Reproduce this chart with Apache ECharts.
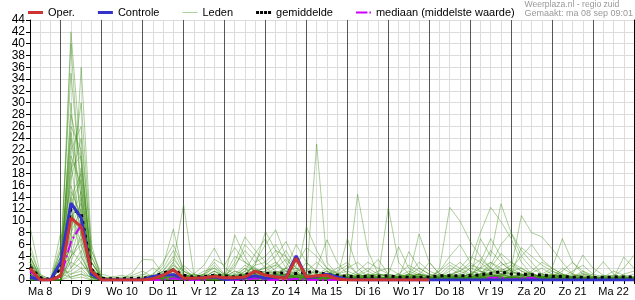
<!DOCTYPE html>
<html><head><meta charset="utf-8">
<script src="https://cdn.jsdelivr.net/npm/echarts@6/dist/echarts.min.js"></script>
<style>html,body{margin:0;padding:0;background:#fff}#c{width:635px;height:300px}</style>
</head><body><div id="c"></div>
<script>
// Day labels (one per day) and the 6-hourly steps within a day
const dayLabels = ['Ma 8','Di 9','Wo 10','Do 11','Vr 12','Za 13','Zo 14','Ma 15','Di 16','Wo 17','Do 18','Vr 19','Za 20','Zo 21','Ma 22','Di 23'];
const stepHours = [6, 12, 18, 0];
const nPoints = 60; // Ma 8 06:00 .. Di 23 00:00, every 6 h

// Operationele run (ends Do 18 00:00)
const oper = [2,0,0, 0.7,10.5,9,1.5, 0,0,0,0, 0,0.2,0.8,1.7, 0.3,0.3,0.4,0.6, 0.4,0.4,0.5,1.5, 0.8,0.5,0.3,3.7, 0.5,0.7,0.8,0.2, 0,0,0,0, 0,0,0,0, 0];
// Controle run
const controle = [0.5,0,0, 3,13,10.5,1, 0,0,0,0, 0,0.6,0.8,0.9, 0.3,0.2,0.4,0.5, 0.1,0.2,0.4,0.7, 0.3,0.5,0.4,4.1, 0.4,0.6,1,0.5, 0.1,0,0,0, 0,0,0,0, 0,0,0,0, 0,0,0,0, 0,0,0,0, 0,0,0,0, 0,0,0,0, 0];
// Ensemble gemiddelde
const gemiddelde = [2.2,0.4,0.1, 2,12,11.2,1.8, 0.3,0.2,0.2,0.3, 0.3,0.5,1.2,1.7, 0.8,0.5,0.55,0.8, 0.7,0.5,0.9,1.4, 1.1,1.2,1.2,1.1, 1.3,1.4,0.9,0.8, 0.6,0.6,0.6,0.6, 0.7,0.5,0.45,0.45, 0.5,0.7,0.7,0.7, 0.7,0.9,1.1,1.4, 1,1,0.9,0.85, 0.6,0.6,0.45,0.45, 0.4,0.45,0.5,0.5, 0.5];
// Mediaan
const mediaan = [1.5,0,0, 0.5,6.5,9.3,1, 0,0,0,0, 0,0,0,0.3, 0,0,0,0.6, 0,0,0,0.3, 0,0,0,0.2, 0,0,0,0, 0,0,0,0, 0,0,0,0, 0,0,0,0, 0,0,0.4,0.4, 0,0.3,0.4,0, 0,0,0,0, 0,0,0,0, 0];
// Ensembleleden
const leden = [
[4,0.5,0, 2,42,20,3, 0.5,0,0,0, 0,0.3,1,2, 0.5,0,0.3,1, 0.2,0.8,2,1, 0.5,1.2,0.8,0.3, 0.2,1,0.5,0, 0,0.3,0.8,0.2, 0,0,0.4,1, 0.3,0,0,0.5, 1,2,3,1.5, 0.5,0.2,0,0.4, 0.8,0.3,0,0, 0,0.2,0.5,0.3, 0],
[2,0,0, 1,40,13,1, 0,0,0.3,0.8, 1.5,0.5,0.8,3, 0.3,0.1,0.5,2.5, 0.8,4,3,1.5, 2,3,1,0.5, 0.3,0.8,2,1.2, 0.5,0.2,0,0, 0.2,0.6,1.5,0.8, 0,0.3,1,0.5, 0.2,0.5,1,0.4, 2,1,0.5,0.3, 0,0,0.4,1, 0.5,0.3,0.2,1, 1.5],
[9,1,0, 5,35,16,1, 0,0,0,0, 0,0,0.5,1.2, 0,0,0,0.4, 0,0.3,1,2.5, 8.2,5,2,0.8, 0.4,0,0.2,0.5, 1,0.5,0.2,0, 0,0.2,0.5,0, 0,0.5,2,1, 0.5,3,7,4, 1.5,0.5,0.2,0, 0,0.3,0.8,0.5, 0.2,0,0,0.3, 0.5],
[0,0,0, 0,30,9,0.5, 0,0,0,0, 0.3,1,2.5,8.6, 1,0.3,0,0, 0,0,0.5,0.3, 0.2,0.8,1.5,2, 1,0.5,0.3,0.2, 0,0,0.5,1.5, 2,1,0.3,0, 0,0,0.2,0.4, 1,0.5,0,0, 0,0.5,1.2,2, 1,0.4,0.2,0, 0,0,0.4,0.8, 0.3],
[3,0,0, 3,26,22,2, 0.3,0,0,0, 0,0,0.3,0.5, 2.5,1,0.5,0.3, 0,0.5,0.8,3, 6,8.5,4,1, 0.5,0.3,0,0, 0,0,0.3,0.2, 0.5,1,0.3,0.6, 0.4,1.5,3,2, 1,0.8,0.3,0.5, 0.2,0,0,0.3, 0.5,2,1,0.5, 0.3,0.5,0.2,0, 0],
[1,0,0, 1,24,11,1, 0,0.2,0.5,0.3, 0,0.2,0.5,3, 12.8,1,0.3,0.5, 0.2,0.3,0.8,0.4, 0.5,1,2,3, 1.5,1,0.5,0.3, 0.2,0.5,1,0.4, 0,0,0,0.3, 0.5,0.2,0,0, 0.4,1,2.5,6, 8,5,3,1, 0.5,0.3,0.3,0.2, 0,0,0.2,0.4, 0.3],
[5,0.8,0.2, 4,22,26,4, 0,0,0,0, 0,0,0,0.3, 0,0,0.5,1.5, 0.5,7.6,4,1, 0.3,0.5,0.3,0.2, 0,0.2,1,2, 3,1,0.5,0, 0,0.3,0.8,0.5, 0.2,0,0.3,1, 2,1.5,1,0.5, 0.3,0.5,0.8,0.3, 0,0,0.5,1.2, 0.5,0.2,0,0, 0.2],
[2,0,0, 0,20,7,1, 0,0,0,0, 0,0.4,1.5,4, 1,0.5,1,2, 0.5,0.3,0.2,0.8, 1.5,2.5,5,2, 0.5,23,3,1, 0.3,0,0,0.2, 0.5,0.2,0,0, 0,0,0.5,0.3, 0,0.3,1.5,3, 1.5,0.8,0.5,0.2, 0,0,0,0.3, 0.2,0,0,0, 0],
[0.5,0,0, 2,18,30,5, 0.5,0.2,0,0, 0,0,0.2,1, 0.3,0,0,0, 0,0.5,1,0.5, 0.3,0.2,0.8,1.5, 2,1,0.5,0.2, 0,0.5,1,0.8, 0.3,0,0,0, 0,2,12.3,10, 6.5,4,2,1, 0.5,0.2,0,0, 0,0.2,0.5,0.3, 0,0.5,0.8,0.3, 0],
[3,0,0, 6,16,10,1, 0,0,0,0, 0,0,0.6,1.5, 0.5,0.2,0.3,0.5, 0.3,0,0.2,0.5, 1,0.5,0.2,0.5, 0.8,1.5,0.5,0.3, 0.5,14.5,5,1, 0.5,0.3,0,0, 0,0,0,0.5, 1,0.5,0.3,0.8, 0.5,1,0.5,0, 0.3,0.8,0.4,0.2, 0,0,0.3,0.5, 0.2],
[0,0,0, 1,14,18,2, 0,0,0.3,1.2, 3.5,3.4,1,0.5, 0.2,0,0,0.3, 0.8,2,6,4, 2,1,0.5,0.8, 0.3,0,0,0.5, 1,0.5,0,0, 0,0.5,1,0.5, 0.3,0.2,0.8,1.5, 3,8,12.3,9.9, 7,3,1,0.5, 0.2,0,0,0, 0,0.2,0,0, 0],
[1.5,0,0, 3,12,4,0.5, 0,0,0,0, 0,0,0,0.2, 0.5,1,2.5,5.4, 2,1,0.5,0.3, 0,0.3,0.5,0.2, 0,0,0.5,1, 2,3,1.5,0.5, 0.3,0,0.5,1, 0.5,0,0,0, 0,0.2,0.5,1, 2,10.9,8,7.3, 5.3,3,1,0.5, 0.3,0,0,0.2, 0.5],
[4,0.3,0, 0,10,15,3, 0.2,0,0,0, 0,0.5,2,5, 1.5,0.5,0.3,1, 0.5,3,7.3,5, 3,1.5,1,0.5, 0.5,0.8,1.5,0.8, 0.3,0,0,0, 0,0.5,0.8,2, 1,0.5,0.2,0, 0,0,0.5,1.5, 1,0.3,0.2,0.5, 1,0.8,0.3,0.2, 0.5,0.3,0,0, 0],
[2,0,0, 2,8,12,0.5, 0,0,0,0.5, 1,0.5,0.2,0, 0,0,0.2,0.5, 0.3,0.2,0,0, 0.5,0.8,2,6, 3,1,0.5,0.2, 0,0.3,0.8,0.4, 12.3,3,1,0.5, 0.2,0,0,0.3, 0.5,1,0.8,0.3, 0,0,0.5,1, 2,7,3,1, 0.5,0.2,0,0, 0.3],
[0,0,0, 4,7,9.5,2, 0.3,0,0,0, 0,0,0.8,2.5, 1,0.3,0,0, 0,0.3,1.5,2, 0.8,0.5,0.3,0.5, 9,5,2,0.5, 0.2,0,0.3,0.5, 1,5.6,2,1, 0.5,0.2,0,0, 0,0.5,2,0.5, 0.3,0.2,0.3,0.8, 0.5,0.2,0,0, 0,0.5,1.5,0.8, 0.5],
[1,0,0, 1,6,36,6, 0,0,0,0, 0,0.2,0.3,0.6, 0.3,0,0,0.2, 0.3,0.5,0.3,0.2, 0.4,0.8,1,0.5, 0.3,2,6.8,3, 1,0.5,0.2,0, 0,0,0.3,0.8, 3,1,0.5,0.2, 0.5,0.8,0.5,0.2, 0,0.3,0.5,0.3, 0.8,0.5,0.2,0, 0,0,0.3,0.5, 0.2],
[3,0,0, 0,5,14,1, 0,0,0,0, 0.2,0.8,3,6, 2,0.5,0.2,0, 0,0.2,0.5,1, 1,2,3.5,1.5, 0.5,0.3,0.2,0, 0.5,1.5,3,2, 1,0.5,0.2,0, 0,0,0.3,0.8, 0.5,0.3,1,2.5, 3,2,1,0.5, 0.3,0.2,0.5,0.8, 0.3,0,0,0, 0],
[0.5,0,0, 3,5,3,0.5, 0,0,0,0, 0,0,0,0, 0,0.3,0.8,3, 1,0.5,0.2,0, 0,0.3,0.5,1, 0.5,0.2,0,0.3, 0.8,0.4,0.2,0, 0,0.2,0.5,7.8, 3,1,0.5,0.2, 0.3,0.5,0.8,0.4, 0.3,0.5,1,0.5, 0.2,0,0,0.3, 1,3.1,1,0.3, 0],
[2,0,0, 0,4,10,2, 0,0,0,0, 0,0,0.5,1, 0.5,0.2,0,0, 0,0,0.5,0.8, 0.5,0.3,0.8,0.4, 0.2,0.5,0.8,0.3, 7,2,0.5,0.2, 0.5,0.3,0,0, 0,0,0.5,2, 4,3,1.5,0.5, 0.3,0.5,0.3,0.2, 0.5,1,0.5,0.3, 0.2,0.5,0.3,0.2, 0.4],
[6,0.5,0, 2,4,6,1, 0,0,0,0, 0.3,0,0.2,0.5, 0.2,0,0,0.5, 0.5,1.5,0.8,0.3, 0.2,0.5,0.3,0.2, 0.5,0.3,0.2,0.5, 0.3,0.8,0.4,0, 0,0,0.2,0.4, 0.3,0.5,0.2,0, 0.5,7,4,12.9, 8,4,2,1, 0.5,0.3,0.2,0, 0,0,0.2,0.3, 0],
[0,0,0, 1,3,8,1.5, 0,0,0,0, 0,0.3,0.5,1, 0.5,0.5,0.8,0.3, 0.2,0.5,2,0.5, 0.8,0.5,0.3,0, 0,0.5,0.3,0.5, 0.4,0.2,0,0.3, 0.5,0.3,4.8,2, 1,0.5,0.3,0.5, 1,1.5,0.5,0.3, 0.5,0.3,0.2,0, 0,0.5,1,4.2, 2,0.8,0.3,0, 0],
[1,0,0, 0,3,2,0.3, 0,0.5,0.8,0.3, 0.5,0.2,0,0, 0,0,0,0.3, 0.5,0.3,0.2,0.5, 0.3,0.2,0.5,0.8, 0.5,0.3,0,0, 0,0,0.2,0.5, 0.3,0.2,0,0, 0,0.3,0.5,0.8, 0.3,0.2,0.5,0.3, 0.5,0.8,0.5,0.3, 0,0,0.3,0.5, 0.3,0.2,0.5,2, 4.2],
[2.5,0,0, 8,2,5,0, 0,0,0,0, 0,0,0,0.2, 0.3,0.5,1,0.3, 0,0.2,0.3,0.2, 0.5,1,0.8,0.4, 0.3,0.5,0.3,0.2, 0,0.3,0.5,0.3, 0.2,0,0,0.2, 0.5,0.3,0.8,0.5, 0.3,0.5,1,0.5, 0.3,0.2,0.5,0.8, 1.5,0.8,0.5,0.3, 0.2,0,0.3,3.9, 2],
[0,0,0, 0,2,4,0.5, 0,0,0,0, 0,0,0.2,0.5, 0.3,0.2,0.5,1, 0.5,0.3,0.2,0, 0,0,0.2,0.5, 0.3,0.2,0.4,0.3, 0.2,0.5,0.3,0.2, 0,0.3,0.5,0.3, 0.2,0,0,0, 0.2,0.3,0.5,0.8, 0.5,0.3,0.5,0.3, 0.3,0.2,0.5,0.3, 0.2,0.3,0.2,0.5, 0.3],
[1,0,0, 1,1.5,3,0.5, 0,0,0,0, 0,0,0,0, 0,0,0,0, 0,0.5,0.8,0.5, 0.3,0.2,0.4,0.3, 0.2,0.3,0.2,0, 0,0,0.2,0.3, 0.3,0.2,0.3,0.5, 0.2,0.4,0.3,0, 0,0.2,0.3,0.2, 0.2,0.3,0.2,0.5, 0.8,0.3,0.2,0, 0,0.2,0.3,0.2, 0],
[3.5,0.3,0, 0,1,2,2, 0.5,0,0,0, 0,0,0.3,0.8, 0.5,0.3,0.2,0, 0,0,0.3,0.2, 0.5,0.8,0.5,0.2, 0.3,0.5,1,0.5, 0.3,0.2,0,0, 0,0,0.3,0.5, 0.3,0.8,0.5,0.3, 0.2,0,0,0.3, 0.5,0.3,0.2,0, 0,0.3,0.2,0.5, 0.3,0.2,0,0.3, 0.2],
[0.5,0,0, 2,1,1.5,0.3, 0,0,0,0, 0,0,0,0.3, 0.2,0,0,0, 0,0,0.2,0.5, 1,0.5,0.3,0.2, 0,0,0.3,0.5, 0.5,0.3,0.2,0, 0,0,0,0.2, 0.3,0.2,0,0, 0,0.3,0.5,0.3, 0.2,0,0,0.2, 0.3,0.5,0.3,0, 0,0,0.2,0.3, 0.5],
[2,0,0, 0,0.5,1,0, 0,0,0,0, 0,0,0,0, 0,0,0,0.2, 0.2,0,0,0, 0,0.2,0.3,0, 0,0,0,0, 0,0,0.2,0, 0,0,0,0, 0,0,0.2,0.3, 0.2,0,0,0, 0,0,0.2,0, 0,0,0,0, 0,0,0,0, 0],
[0,0,0, 1,0.5,1,0.5, 0,0,0,0, 0,0,0,0, 0,0,0,0, 0,0,0,0, 0,0,0,0, 0,0,0,0, 0,0,0,0, 0,0,0,0, 0,0,0,0, 0,0,0,0, 0,0,0,0, 0,0,0,0, 0,0,0,0, 0],
[1,0,0, 3,0.2,0.5,0, 0,0,0,0, 0,0,0,0.2, 0,0,0,0, 0,0,0.2,0.3, 0.2,0,0,0, 0,0,0,0, 0,0,0,0, 0,0,0,0, 0,0,0,0, 0,0,0.2,0, 0,0,0,0, 0,0,0,0, 0,0,0,0, 0],
[1,0,0, 2,19,21,3, 0.2,0,0,0, 0,0.5,1.5,3.5, 1.5,0.8,0.5,1, 0.5,2.5,5,3, 4,6,3,1, 0.5,0.3,0.8,1.5, 2.5,1,0.5,0.2, 0,0.3,1,3, 1.5,0.8,0.5,0.3, 0.5,1,2,4.5, 3,1.5,0.8,0.3, 0.2,0.5,1.5,2.5, 1,0.5,0.3,0.2, 0],
[0,0,0, 1,15,11,2, 0,0,0,0, 0.8,2,1,0.5, 0.3,0.5,1.5,2, 1,0.5,0.3,1, 2.5,4,6.5,3, 1,0.5,0.3,0.2, 0,0.2,0.5,1, 0.8,0.5,0.3,0, 0.3,1,2.5,1.5, 0.8,0.5,0.3,1, 2,4,6,3.5, 2,1,0.5,0.3, 0.2,0,0,0.3, 0.5],
[2,0.3,0, 4,13,17,4, 0.5,0.2,0,0, 0,0,0.3,0.8, 0.5,0.3,1,3.5, 2.5,5.5,3,2, 1,0.5,1,2.5, 5.5,4,2,1, 0.5,0.3,0,0, 0.3,1,2.5,1.5, 0.5,0.3,0.2,0.5, 1,2,5,3, 1.5,0.8,0.5,0.3, 0.5,1.5,3,1.5, 0.5,0.2,0,0, 0],
[0.5,0,0, 0,11,8,1, 0,0,0,0, 0,0,0,0.5, 0.3,0,0,0.5, 0.3,0.5,1.5,4.5, 7,3,1.5,0.5, 0.3,0.5,1,0.5, 0.3,0.8,1.5,3.5, 1,0.5,0.2,0, 0,0.5,1,0.5, 0.3,0.2,0.5,0.8, 1.5,2,1,0.5, 0.3,0.2,0.5,1.5, 0.8,0.3,0.2,0.5, 1],
[3,0.5,0, 3,9,13,2, 0.3,0,0,0, 0.5,0.8,1.2,2, 0.8,0.3,0.5,0.8, 0.3,1,2.5,1.5, 0.8,0.5,0.3,0.5, 1,0.8,0.5,0.3, 0.2,0,0.3,0.5, 0.2,0.8,0.5,0.3, 0.5,1.5,4,6, 3,1.5,0.8,0.5, 0.3,0.8,1.2,0.5, 0.3,0.2,0,0, 0.3,0.5,0.8,0.5, 0.3],
[0,0,0, 1,17,24,5, 1,0.5,0.3,0, 0,0,0.5,1.5, 0.3,0.2,0,0.3, 0.5,0.3,1,2.5, 3,5,4,2, 1.5,3,1.5,0.5, 0.3,0.5,0.3,0.2, 0.5,0.3,0.5,1, 0.5,0.3,0,0.3, 0.5,1,3,2, 1,5.5,4,2.5, 1.5,0.8,0.5,0.2, 0,0.3,0.5,0.3, 0],
[1,0,0, 2,25,14,1, 0,0,0,0, 0.2,0.5,0.3,0.5, 0.5,1,0.5,0.3, 0.2,0,0.5,1, 1.5,1,0.5,0.8, 3,1.5,1,0.5, 0.5,1,2,1, 0.5,0.3,0.2,0.5, 0.3,0.5,0.8,0.5, 2,3.5,2,1, 0.5,0.8,1.5,3, 2,1,0.5,0.5, 0.3,0.2,0.2,0.3, 0.2],
[4,0.5,0, 5,12,6,0.5, 0,0,0,0, 0,0,0.3,0.5, 0.3,0.2,0.3,0.5, 0.5,0.8,0.5,0.3, 0.5,0.3,0.8,1.2, 0.8,0.5,0.3,0.2, 0.3,0.5,0.8,0.5, 0.3,0.2,0.5,1, 0.8,0.5,0.3,0.2, 0.3,0.5,0.5,1.5, 2.5,1.5,1,0.5, 0.8,0.5,0.3,0.3, 0.5,0.8,0.5,0.3, 0.3],
[0,0,0, 0,8,19,3, 0.5,0.3,0,0, 0,0.3,0.8,2.5, 1.5,0.5,0.3,0.5, 0.5,0.3,0.8,1.5, 2,2.5,1.5,1, 0.5,0.3,0.2,0.3, 0.5,0.3,0.2,0.2, 0.3,0.5,0.8,0.5, 0.3,0.5,1,1.5, 2.5,2,1.5,1, 0.5,0.3,0.5,0.8, 1,0.5,0.3,0.2, 0.2,0.3,0.5,0.5, 0.2],
[1,0,0, 1,6,10,2, 0,0,0,0, 0,0,0,0.2, 0.2,0.3,0.5,1.5, 0.5,0.3,0.2,0.5, 0.8,0.5,1,0.8, 0.5,0.3,0.5,1, 1.5,0.8,0.5,0.3, 0.2,0,0.3,0.5, 0.2,0.5,0.8,0.3, 0.5,0.8,1,1.5, 0.8,0.5,0.3,0.5, 0.8,0.5,0.3,0.2, 0.3,0.2,0.2,0.3, 0.5],
[2,0,0, 3,21,16,1.5, 0,0,0,0, 0.3,0.5,0.5,1, 0.8,0.5,0.2,0.5, 1,0.8,0.5,0.8, 1,1.5,0.8,0.5, 0.3,0.8,1.5,0.8, 0.5,0.3,0.2,0, 0,0.2,0.5,0.3, 0.5,0.8,0.5,0.3, 0.3,0.5,0.8,0.5, 0.5,0.8,1,0.5, 0.3,0.5,0.3,0.2, 0.2,0.3,0.2,0.2, 0.3],
[0,0,0, 0,4,7,1, 0,0,0,0, 0,0,0.2,0.5, 0.2,0,0,0.3, 0.3,0.5,0.3,0.2, 0.3,0.5,0.8,0.5, 0.3,0.2,0.2,0.3, 0.2,0.3,0.2,0, 0.2,0.3,0.2,0.3, 0.2,0,0.2,0.3, 0.3,0.5,0.3,0.2, 0.3,0.2,0.3,0.5, 0.3,0.2,0.2,0, 0.2,0.3,0.2,0.2, 0],
[2,0,0, 2,14,9,1, 0,0,0,0, 0,0.2,0.8,1.5, 0.8,0.3,0.5,1.5, 0.8,0.5,1,1.8, 1.2,0.8,0.5,1, 0.8,0.5,0.8,0.5, 0.3,0.5,1,0.5, 0.3,0.5,1,0.8, 0.5,0.3,0.5,0.8, 0.5,0.8,1.2,1.8, 1.5,1,0.8,0.5, 0.5,0.3,0.3,0.5, 0.3,0.2,0.3,0.5, 0.3],
[0.5,0,0, 1,28,20,2, 0,0,0,0, 0,0,0.3,1, 0.5,0.3,0.2,0.8, 0.5,1.5,1,0.5, 0.8,1.2,2,1, 0.5,0.8,0.5,0.3, 0.5,0.3,0.5,1, 0.8,0.5,0.3,0.5, 0.2,0.5,1.5,3, 1.5,1,0.5,0.8, 1.2,0.8,0.5,0.3, 0.5,0.8,0.5,0.3, 0.2,0.2,0.3,0.5, 0.2]
];

const legendNames = ['Oper.', 'Controle', 'Leden', 'gemiddelde', 'mediaan (middelste waarde)'];
const titleText = 'Weerplaza.nl - regio zuid';
const madeText = 'Gemaakt: ma 08 sep 09:01';

const categories = [];
for (let i = 0; i < nPoints; i++) {
  const day = Math.floor((i + 1) / 4);
  const h = stepHours[i % 4];
  categories.push(dayLabels[day] + '|' + (h < 10 ? '0' + h : h) + ':00');
}

const FONT = '"Liberation Sans", Arial, sans-serif';
const chart = echarts.init(document.getElementById('c'), null, {renderer: 'canvas'});

const series = [];
leden.forEach(m => series.push({
  name: 'Leden', type: 'line', data: m, symbol: 'none', silent: true,
  lineStyle: {width: 1, color: 'rgba(60,140,20,0.42)'},
  itemStyle: {color: '#a9d396'}
}));
series.push({name: 'mediaan (middelste waarde)', type: 'line', data: mediaan, symbol: 'none',
  lineStyle: {width: 2, color: '#cc00ff', type: [12, 3, 2, 3]}, itemStyle: {color: '#cc00ff'}});
series.push({name: 'gemiddelde', type: 'line', data: gemiddelde, symbol: 'none',
  lineStyle: {width: 3, color: '#000', type: [3, 4], cap: 'butt'}, itemStyle: {color: '#000'}});
series.push({name: 'Controle', type: 'line', data: controle, symbol: 'none',
  lineStyle: {width: 3, color: '#3333cc'}, itemStyle: {color: '#3333cc'}});
series.push({name: 'Oper.', type: 'line', data: oper, symbol: 'none',
  lineStyle: {width: 3, color: '#cc3333'}, itemStyle: {color: '#cc3333'}});

// legend icons (15 x 3 boxes)
const icons = {
  'Oper.': 'path://M0,0h15v3H0z',
  'Controle': 'path://M0,0h15v3H0z',
  'Leden': 'path://M0,0h15v0.01H0zM0,1h15v1H0zM0,2.99h15v0.01H0z',
  'gemiddelde': 'path://M0,0h3v3H0zM4,0h3v3H4zM8,0h3v3H8zM12,0h3v3H12z',
  'mediaan (middelste waarde)': 'path://M0,0h0.01v0.01H0zM0,0.5h11.5v2H0zM13.5,0.5h1.5v2h-1.5zM14.99,2.99h0.01v0.01h-0.01z'
};

chart.setOption({
  animation: false,
  backgroundColor: '#fff',
  textStyle: {fontFamily: FONT},
  title: {
    text: titleText, subtext: madeText, right: 2, top: 0, padding: 0, itemGap: 0,
    textStyle: {fontSize: 8.6, fontWeight: 'normal', color: '#999', fontFamily: FONT, lineHeight: 9},
    subtextStyle: {fontSize: 9, color: '#999', fontFamily: FONT, lineHeight: 10}
  },
  legend: {
    data: legendNames.map(n => ({name: n, icon: icons[n]})),
    left: 28, top: 7, padding: 0, itemGap: 23, itemWidth: 15, itemHeight: 3,
    textStyle: {fontSize: 11, color: '#000', fontFamily: FONT}
  },
  grid: {left: 30, right: 1, top: 20, bottom: 20, containLabel: false},
  xAxis: [{
    type: 'category', data: categories, boundaryGap: false,
    axisLine: {lineStyle: {color: '#000', width: 1}},
    axisTick: {show: true, interval: 0, length: 4, lineStyle: {color: '#000'}},
    axisLabel: {interval: (idx) => idx % 4 === 1, formatter: v => v.split('|')[0],
      fontSize: 11, color: '#000', margin: 6, fontFamily: FONT},
    splitLine: {show: true, interval: 0, lineStyle: {color: '#dcdcdc', width: 1}}
  }, {
    type: 'category', data: categories, boundaryGap: false, position: 'top',
    axisLine: {show: true, lineStyle: {color: '#000', width: 1}},
    axisTick: {show: false}, axisLabel: {show: false},
    splitLine: {show: true, interval: (idx) => idx % 4 === 3, lineStyle: {color: '#555', width: 1}}
  }],
  yAxis: [{
    type: 'value', min: 0, max: 44, interval: 2,
    axisLine: {show: true, lineStyle: {color: '#000'}},
    axisTick: {show: true, length: 4, lineStyle: {color: '#000'}},
    axisLabel: {fontSize: 12, color: '#000', margin: 5, fontFamily: FONT},
    splitLine: {show: true, lineStyle: {color: '#dcdcdc', width: 1}}
  }, {
    type: 'value', min: 0, max: 44, interval: 2, position: 'right',
    axisLine: {show: true, lineStyle: {color: '#000'}},
    axisTick: {show: false}, axisLabel: {show: false}, splitLine: {show: false}
  }],
  series: series
});
</script></body></html>
